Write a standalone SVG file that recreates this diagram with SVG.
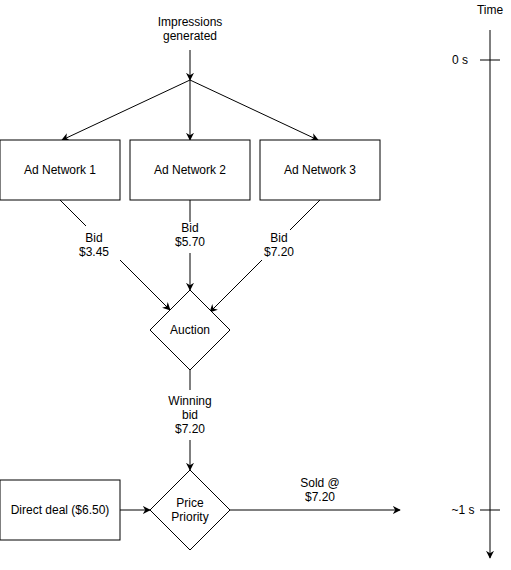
<svg xmlns="http://www.w3.org/2000/svg" width="511" height="570" viewBox="0 0 511 570">
<style>
text{font-family:"Liberation Sans",Arial,sans-serif;font-size:12px;fill:#000;text-anchor:middle}
.s{fill:#fff;stroke:#000;stroke-width:1}
.c{fill:none;stroke:#000;stroke-width:1}
</style>
<defs>
<marker id="a" viewBox="0 0 10 10" refX="9" refY="5" markerWidth="8" markerHeight="8" markerUnits="userSpaceOnUse" orient="auto">
<path d="M0,0 L10,5 L0,10 L3,5 Z" fill="#000"/>
</marker>
</defs>
<rect width="511" height="570" fill="#fff"/>
<g id="connectors">
<line class="c" x1="190" y1="50" x2="190" y2="80" marker-end="url(#a)"/>
<line class="c" x1="190" y1="80" x2="62" y2="140" marker-end="url(#a)"/>
<line class="c" x1="190" y1="80" x2="190" y2="140" marker-end="url(#a)"/>
<line class="c" x1="190" y1="80" x2="318" y2="140" marker-end="url(#a)"/>
<line class="c" x1="60" y1="200" x2="86" y2="226"/>
<line class="c" x1="120" y1="260" x2="170" y2="310" marker-end="url(#a)"/>
<line class="c" x1="190" y1="200" x2="190" y2="222"/>
<line class="c" x1="190" y1="253" x2="190" y2="290" marker-end="url(#a)"/>
<line class="c" x1="320" y1="200" x2="290" y2="230"/>
<line class="c" x1="262" y1="260" x2="210" y2="312" marker-end="url(#a)"/>
<line class="c" x1="190" y1="370" x2="190" y2="390"/>
<line class="c" x1="190" y1="440" x2="190" y2="470" marker-end="url(#a)"/>
<line class="c" x1="120" y1="510" x2="150" y2="510" marker-end="url(#a)"/>
<line class="c" x1="230" y1="510" x2="400" y2="510" marker-end="url(#a)"/>
<line class="c" x1="490" y1="30" x2="490" y2="558" marker-end="url(#a)"/>
<line class="c" x1="480" y1="60" x2="500" y2="60"/>
<line class="c" x1="480" y1="510" x2="500" y2="510"/>
<text x="94" y="242">Bid</text>
<text x="94" y="256">$3.45</text>
<text x="190" y="232">Bid</text>
<text x="190" y="246">$5.70</text>
<text x="279" y="242">Bid</text>
<text x="279" y="256">$7.20</text>
<text x="190" y="405">Winning</text>
<text x="190" y="419">bid</text>
<text x="190" y="433">$7.20</text>
<text x="320" y="487">Sold @</text>
<text x="320" y="501">$7.20</text>
</g>
<g id="impressions"><text x="190" y="26">Impressions</text><text x="190" y="40">generated</text></g>
<g id="adnet1"><rect class="s" x="0" y="140" width="120" height="60"/><text x="60" y="174">Ad Network 1</text></g>
<g id="adnet2"><rect class="s" x="130" y="140" width="120" height="60"/><text x="190" y="174">Ad Network 2</text></g>
<g id="adnet3"><rect class="s" x="260" y="140" width="120" height="60"/><text x="320" y="174">Ad Network 3</text></g>
<g id="auction"><path class="s" d="M190,290 L230,330 L190,370 L150,330 Z"/><text x="190" y="334">Auction</text></g>
<g id="direct"><rect class="s" x="0" y="480" width="120" height="60"/><text x="60" y="514">Direct deal ($6.50)</text></g>
<g id="price"><path class="s" d="M190,470 L230,510 L190,550 L150,510 Z"/><text x="190" y="507">Price</text><text x="190" y="521">Priority</text></g>
<g id="time"><text x="490" y="14">Time</text><text x="460" y="64">0 s</text><text x="463" y="514">~1 s</text></g>
</svg>
